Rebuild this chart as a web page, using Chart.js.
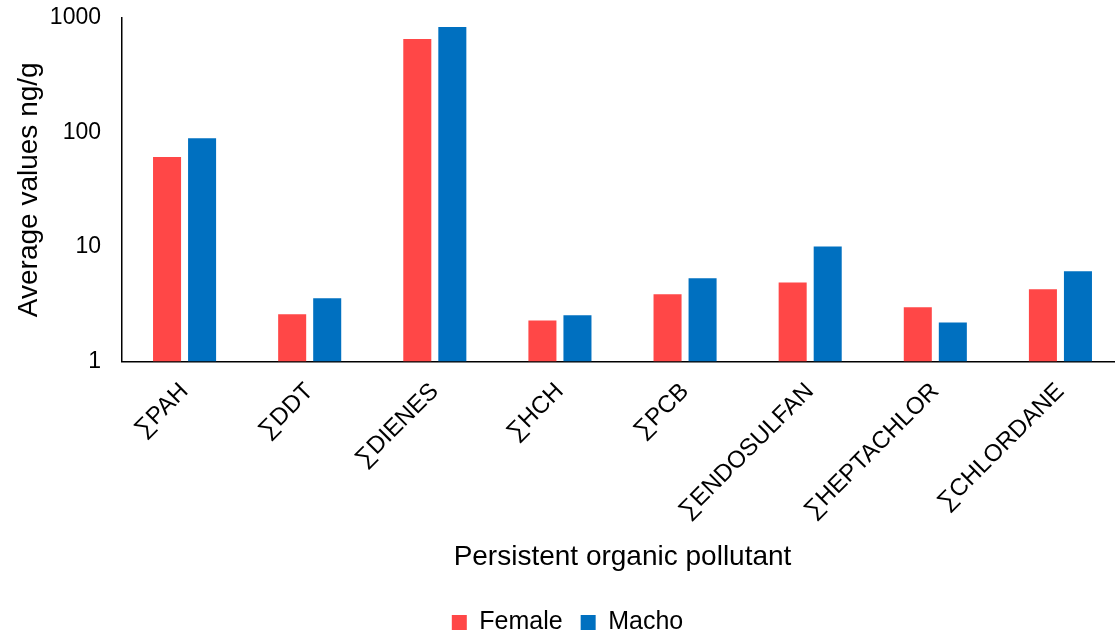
<!DOCTYPE html>
<html>
<head>
<meta charset="utf-8">
<script src="https://cdn.jsdelivr.net/npm/chart.js@4"></script>
<style>
  html, body { margin: 0; background: #fff; overflow: hidden; }
  #wrap { width: 1115px; height: 634px; overflow: hidden; }
</style>
</head>
<body>
<div id="wrap"><canvas id="pollutantChart" width="1123" height="645"></canvas></div>
<script>
const pollutants = ['∑PAH', '∑DDT', '∑DIENES', '∑HCH', '∑PCB', '∑ENDOSULFAN', '∑HEPTACHLOR', '∑CHLORDANE'];
const femaleValues = [61, 2.58, 656, 2.28, 3.86, 4.9, 2.97, 4.27];
const machoValues = [89, 3.56, 836, 2.53, 5.32, 10.1, 2.19, 6.13];
const yTicks = [1, 10, 100, 1000];

Chart.defaults.font.family = '"Liberation Sans", Arial, sans-serif';
Chart.defaults.color = '#000';

let ctx = document.getElementById('pollutantChart').getContext('2d');
let myChart = new Chart(ctx, {
    type: 'bar',
    data: {
        labels: pollutants,
        datasets: [{
            label: 'Female',
            data: femaleValues,
            backgroundColor: '#FF4747',
            barPercentage: 0.8,
            categoryPercentage: 0.56
        }, {
            label: 'Macho',
            data: machoValues,
            backgroundColor: '#0070C0',
            barPercentage: 0.8,
            categoryPercentage: 0.56
        }]
    },
    options: {
        responsive: false,
        animation: false,
        layout: { padding: { top: 0, right: 0, left: 12, bottom: 0 } },
        plugins: {
            tooltip: { enabled: false },
            legend: {
                position: 'bottom',
                labels: {
                    boxWidth: 15,
                    boxHeight: 15,
                    padding: 18,
                    font: { size: 25 }
                }
            }
        },
        scales: {
            x: {
                grid: { display: false, drawTicks: false },
                border: { display: true, color: '#000', width: 1.5 },
                ticks: {
                    font: { size: 24 },
                    maxRotation: 45,
                    minRotation: 45,
                    padding: 16
                },
                title: {
                    display: true,
                    text: 'Persistent organic pollutant',
                    font: { size: 28, lineHeight: 1 },
                    padding: { top: 2, bottom: 21 }
                }
            },
            y: {
                type: 'logarithmic',
                min: 1,
                max: 1000,
                afterBuildTicks: axis => {
                    axis.ticks = yTicks.map(v => ({ value: v }));
                },
                afterFit: scale => {
                    // keep the plot close to the top edge and the axis at x=122
                    scale.width = 110;
                    scale.paddingTop = 18;
                    scale.paddingBottom = 0;
                },
                grid: { display: false, drawTicks: false },
                border: { display: true, color: '#000', width: 1.5 },
                ticks: {
                    font: { size: 23 },
                    padding: 21,
                    callback: value => String(value)
                },
                title: {
                    display: true,
                    text: 'Average values ng/g',
                    font: { size: 28 },
                    padding: { top: 0, bottom: 6 }
                }
            }
        }
    }
});
</script>
</body>
</html>
